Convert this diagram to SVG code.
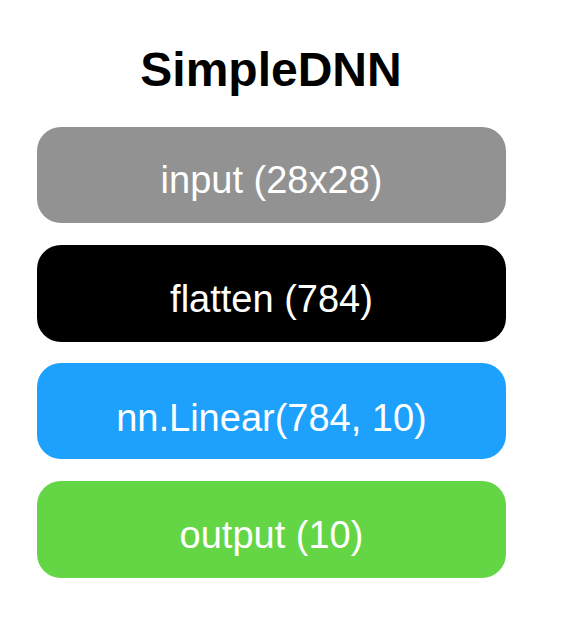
<svg xmlns="http://www.w3.org/2000/svg" width="562" height="638" viewBox="0 0 562 638">
<style>
.title{font-family:"Liberation Sans",Arial,sans-serif;font-weight:bold;font-size:48px;fill:#000;text-anchor:middle}
.lbl{font-family:"Liberation Sans",Arial,sans-serif;font-size:38px;fill:#fff;text-anchor:middle}
</style>
<rect width="562" height="638" fill="#fff"/>
<text class="title" x="271" y="86">SimpleDNN</text>
<g id="connectors"></g>
<g id="input">
<rect x="37" y="127" width="469" height="96" rx="24" fill="#929292"/>
<text class="lbl" x="271.5" y="193">input (28x28)</text>
</g>
<g id="flatten">
<rect x="37" y="245" width="469" height="97" rx="24" fill="#000000"/>
<text class="lbl" x="271.5" y="312">flatten (784)</text>
</g>
<g id="linear">
<rect x="37" y="363" width="469" height="96" rx="24" fill="#1DA1FC"/>
<text class="lbl" x="271.5" y="431">nn.Linear(784, 10)</text>
</g>
<g id="output">
<rect x="37" y="481" width="469" height="97" rx="24" fill="#64D646"/>
<text class="lbl" x="271.5" y="548">output (10)</text>
</g>
</svg>
